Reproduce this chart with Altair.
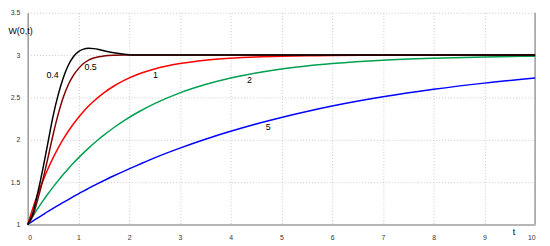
import altair as alt
import pandas as pd

t_vals = [0, 0.1, 0.2, 0.3, 0.4, 0.5, 0.6, 0.7, 0.8, 0.9, 1.0, 1.1, 1.2, 1.3, 1.4, 1.5,
          1.7, 1.9, 2.2, 2.5, 3, 3.5, 4, 4.5, 5, 5.5, 6, 7, 8, 9, 10]

w_04 = [1.0, 1.13, 1.38, 1.66, 1.97, 2.28, 2.53, 2.73, 2.88, 2.98, 3.04, 3.07, 3.08, 3.076, 3.066, 3.052,
        3.027, 3.01, 3.0, 3.0, 3.0, 3.0, 3.0, 3.0, 3.0, 3.0, 3.0, 3.0, 3.0, 3.0, 3.0]
w_05 = [1.0, 1.1, 1.3, 1.53, 1.79, 2.06, 2.3, 2.5, 2.65, 2.76, 2.84, 2.9, 2.94, 2.965, 2.98, 2.99,
        2.998, 3.0, 3.0, 3.0, 3.0, 3.0, 3.0, 3.0, 3.0, 3.0, 3.0, 3.0, 3.0, 3.0, 3.0]
w_1 = [1.0, 1.190, 1.363, 1.518, 1.659, 1.787, 1.902, 2.007, 2.101, 2.187, 2.264, 2.334, 2.398, 2.455, 2.507, 2.554,
       2.635, 2.701, 2.779, 2.836, 2.900, 2.940, 2.963, 2.978, 2.987, 2.992, 2.995, 2.998, 2.999, 3.0, 3.0]
w_2 = [1.0, 1.098, 1.190, 1.279, 1.363, 1.442, 1.518, 1.590, 1.659, 1.725, 1.787, 1.846, 1.902, 1.956, 2.007, 2.055,
       2.145, 2.227, 2.334, 2.427, 2.554, 2.652, 2.729, 2.789, 2.836, 2.872, 2.900, 2.940, 2.963, 2.978, 2.987]
w_5 = [1.0, 1.040, 1.078, 1.116, 1.154, 1.190, 1.226, 1.261, 1.295, 1.329, 1.363, 1.395, 1.427, 1.459, 1.489, 1.518,
       1.576, 1.631, 1.710, 1.787, 1.902, 2.007, 2.101, 2.187, 2.264, 2.334, 2.398, 2.507, 2.596, 2.669, 2.729]

series_names = ["5", "2", "1", "0.5", "0.4"]
series_values = [w_5, w_2, w_1, w_05, w_04]
series_colors = ["#0000ff", "#00a050", "#ff0000", "#800000", "#000000"]

label_text = ["0.4", "0.5", "1", "2", "5"]
label_t = [0.49, 1.24, 2.52, 4.37, 4.74]
label_w = [2.76, 2.86, 2.77, 2.70, 2.15]

y_ticks = [1, 1.5, 2, 2.5, 3, 3.5]
x_ticks = [0, 1, 2, 3, 4, 5, 6, 7, 8, 9, 10]

rows = []
for name, vals in zip(series_names, series_values):
    for i, (t, w) in enumerate(zip(t_vals, vals)):
        rows.append({"series": name, "t": t, "w": w, "order": i})
df = pd.DataFrame(rows)

lab_df = pd.DataFrame({"label": label_text, "t": label_t, "w": label_w})

FONT = "Liberation Sans"

x_scale = alt.Scale(domain=[0, 10], nice=False, zero=False)
y_scale = alt.Scale(domain=[1, 3.5], nice=False, zero=False)

x_axis = alt.Axis(values=x_ticks, format="d", grid=True, gridDash=[1, 2], gridColor="#c8c8c8",
                  domainColor="#a0a0a0", domainWidth=1.6, ticks=False, labelPadding=9,
                  labelFontSize=7, labelColor="#333", labelFont=FONT,
                  title="t", titleAngle=0, titleX=493, titleY=7, titleBaseline="middle",
                  titleAlign="center", titleFontSize=9, titleFontWeight="normal", titleFont=FONT)
y_axis = alt.Axis(values=y_ticks, format="~r", grid=True, gridDash=[1, 2], gridColor="#c8c8c8",
                  domainColor="#a0a0a0", domainWidth=1.6, ticks=False, labelPadding=8,
                  labelFontSize=7, labelColor="#333", labelFont=FONT,
                  title="W(0,t)", titleAngle=0, titleX=-20, titleY=18, titleBaseline="middle",
                  titleAlign="left", titleFontSize=9, titleFontWeight="normal", titleFont=FONT)

lines = alt.Chart(df).mark_line(strokeWidth=1.5, interpolate="monotone").encode(
    x=alt.X("t:Q", scale=x_scale, axis=x_axis),
    y=alt.Y("w:Q", scale=y_scale, axis=y_axis),
    color=alt.Color("series:N", scale=alt.Scale(domain=series_names, range=series_colors), legend=None),
    detail="series:N",
    order="order:Q",
)

border = alt.Chart(pd.DataFrame({"t": [10]})).mark_rule(color="#a0a0a0", strokeWidth=1.6).encode(
    x=alt.X("t:Q", scale=x_scale)
)

labels = alt.Chart(lab_df).mark_text(fontSize=9, font=FONT, color="#000").encode(
    x=alt.X("t:Q", scale=x_scale),
    y=alt.Y("w:Q", scale=y_scale),
    text="label:N",
)

chart = alt.layer(border, lines, labels).properties(
    width=515, height=215,
    autosize=alt.AutoSizeParams(type="none"),
    padding={"left": 20, "top": 3, "right": 7, "bottom": 20},
).configure_view(stroke=None)

chart.save("out.html", embed_options={"renderer": "svg", "actions": False})
